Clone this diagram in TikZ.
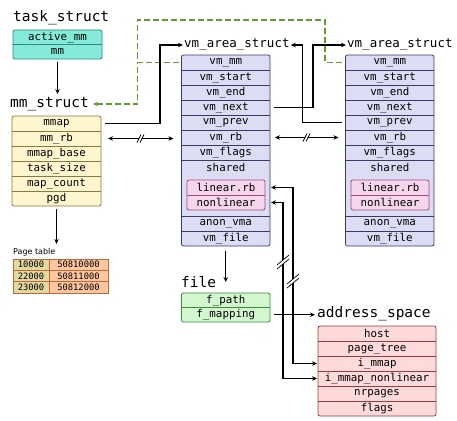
\documentclass[tikz,border=0pt]{standalone}
\usepackage{fontspec}
\setmonofont{DejaVu Sans Mono}
\setsansfont{DejaVu Sans}
\usetikzlibrary{arrows.meta,calc}
\definecolor{tealF}{HTML}{86EAD9}\definecolor{tealD}{HTML}{2E8C7E}
\definecolor{yelF}{HTML}{FFF5CF}\definecolor{yelD}{HTML}{8A7A40}
\definecolor{vmaF}{HTML}{DCDCF4}\definecolor{vmaD}{HTML}{3A3A6A}
\definecolor{pinkF}{HTML}{F6D6EC}\definecolor{pinkD}{HTML}{9A4E84}
\definecolor{grnF}{HTML}{D2F7CE}\definecolor{grnD}{HTML}{3E8E3E}
\definecolor{redF}{HTML}{FFDADA}\definecolor{redD}{HTML}{9E3C3C}
\definecolor{khaki}{HTML}{E3D9A0}\definecolor{salm}{HTML}{FFC6A0}\definecolor{ptD}{HTML}{C0683A}
\definecolor{dashG}{HTML}{5E9E2E}
\tikzset{
 title/.style={font=\ttfamily\fontsize{14.5}{16}\selectfont, anchor=west, inner sep=1pt},
 vtitle/.style={font=\ttfamily\fontsize{12.5}{14}\selectfont, anchor=west, inner sep=1pt},
 fld/.style={font=\ttfamily\fontsize{10.8}{12}\selectfont, anchor=north west, inner sep=0pt, outer sep=0pt, minimum height=15pt},
 ptc/.style={font=\ttfamily\fontsize{8.8}{10}\selectfont, anchor=north west, inner sep=0pt, outer sep=0pt, minimum height=11.33pt, draw=ptD, line width=0.8pt},
 boxline/.style={line width=0.8pt},
 arr/.style={line width=1.2pt, -{Stealth[length=5pt,width=4.5pt]}},
 darr/.style={line width=1.2pt, {Stealth[length=5pt,width=4.5pt]}-{Stealth[length=5pt,width=4.5pt]}},
 gdash/.style={line width=1.2pt, dashG, dash pattern=on 6pt off 3pt},
 hashh/.pic={\fill[white] (-3,4) -- (1,-4) -- (4,-4) -- (0,4) -- cycle;
   \draw[line width=0.7pt] (-3,4) -- (1,-4) (0,4) -- (4,-4);},
 hashv/.pic={\fill[white] (-6,6) -- (6,-4) -- (6,-8) -- (-6,2) -- cycle;
   \draw[line width=0.7pt] (-6,6) -- (6,-4) (-6,2) -- (6,-8);},
}
\newcommand{\structrows}[8]{%
 \draw[rounded corners=2pt, fill=#7F, draw=#7D, boxline] (#2,#3) rectangle ++(#4,#5*#6);
 \foreach \t [count=\i] in {#8} {
   \node[fld, minimum width=#4pt, minimum height=#5pt] (#1-\i) at (#2,{#3+(\i-1)*#5}) {\t};
 }
 \foreach \i in {2,...,#6} \draw[#7D, boxline] (#2,{#3+(\i-1)*#5}) -- ++(#4,0);
}
\newcommand{\vmabox}[2]{%
 \draw[rounded corners=2pt, fill=vmaF, draw=vmaD, boxline] (#2,55) rectangle ++(88.5,191);
 \foreach \t [count=\i] in {vm\_mm,vm\_start,vm\_end,vm\_next,vm\_prev,vm\_rb,vm\_flags}
   \node[fld, minimum width=88.5pt] (#1-\i) at (#2,{55+(\i-1)*15}) {\t};
 \node[fld, minimum width=88.5pt] (#1-sh) at (#2,160) {shared};
 \draw[rounded corners=2pt, fill=pinkF, draw=pinkD, boxline] (#2+5.5,180) rectangle ++(78,30);
 \node[fld, minimum width=78pt] (#1-lin) at (#2+5.5,180) {linear.rb};
 \node[fld, minimum width=78pt] (#1-non) at (#2+5.5,195) {nonlinear};
 \draw[pinkD, boxline] (#2+5.5,195) -- ++(78,0);
 \node[fld, minimum width=88.5pt] (#1-av) at (#2,216) {anon\_vma};
 \node[fld, minimum width=88.5pt] (#1-vf) at (#2,231) {vm\_file};
 \foreach \y in {70,85,100,115,130,145,160,216,231} \draw[vmaD, boxline] (#2,\y) -- ++(88.5,0);
}
\begin{document}
\begin{tikzpicture}[x=1pt,y=-1pt]
\useasboundingbox (0,0) rectangle (457,420);
\fill[white] (0,0) rectangle (457,420);

% titles
\node[title] (tst) at (12,18) {task\_struct};
\node[title] (mmt) at (9,104) {mm\_struct};
\node[vtitle] (vt1) at (183,45) {vm\_area\_struct};
\node[vtitle] (vt2) at (346,45) {vm\_area\_struct};
\node[title] (ft) at (180,282) {file};
\node[title] (at) at (316,314) {address\_space};
\node[font=\sffamily\fontsize{8}{9}\selectfont, anchor=west, inner sep=1pt] (pt) at (12,252) {Page table};

% boxes
\structrows{ts}{13}{30}{89}{14.5}{2}{teal}{active\_mm,mm}
\structrows{mm}{12}{116}{89}{15}{6}{yel}{mmap,mm\_rb,mmap\_base,task\_size,map\_count,pgd}
\vmabox{v1}{181.5}
\vmabox{v2}{345.5}
\structrows{f}{181.5}{293}{88.5}{14.5}{2}{grn}{f\_path,f\_mapping}
\structrows{a}{318}{326}{118}{15}{6}{red}{host,page\_tree,i\_mmap,i\_mmap\_nonlinear,nrpages,flags}

% page table
\foreach \a/\b [count=\i] in {10000/50810000,22000/50811000,23000/50812000} {
  \node[ptc, fill=khaki, minimum width=36pt] (pl-\i) at (13,{259+(\i-1)*11.33}) {\a};
  \node[ptc, fill=salm, minimum width=59pt] (pr-\i) at (49,{259+(\i-1)*11.33}) {\b};
}

% coordinates
\coordinate (j1) at (160,45);
\coordinate (j2) at (313,45);
\coordinate (j3) at (302.5,45);
\coordinate (g1) at (137.5,62.5);
\coordinate (g2) at (137.5,20);

% green dashed
\draw[gdash] (v2-1.west) ++(-4,0) -- ++(-16.5,0) |- (g2) -- (g1);
\draw[gdash, -{Stealth[length=5pt,width=4.5pt]}, shorten <=3pt, shorten >=3pt] (v1-1.west) -- (g1) |- (mmt.east);

% connectors
\draw[arr, shorten <=3pt, shorten >=2pt] (ts-2.south) -- (ts-2.south |- mmt.north);
\draw[arr, shorten <=3pt, shorten >=3pt] (mm-6.south) -- (mm-6.south |- pt.north);
\draw[arr, shorten <=4pt] (mm-1.east) -| (j1) -- (vt1.west);
\draw[arr, shorten <=4pt] (v1-4.east) -| (j2) -- (vt2.west);
\draw[arr, shorten <=4pt] (v2-5.west) -| (j3) -- (vt1.east);
\draw[darr, shorten <=7pt, shorten >=8pt] (mm-2.east) -- (mm-2.east -| v1-6.west);
\pic at (140,138.5) {hashh};
\draw[darr, shorten <=5pt, shorten >=7pt] (v1-6.east) -- (v2-6.west);
\pic at (306,137.5) {hashh};
\draw[arr, shorten <=5pt] (v1-vf.south) -- (v1-vf.south |- ft.east);
\draw[arr, shorten <=4pt, shorten >=1pt] (f-2.east) -- (f-2.east -| at.west);
\draw[darr, shorten <=6pt, shorten >=1pt] (v1-lin.east) -- ++(28,0) |- (a-3.west);
\draw[darr, shorten <=6pt, shorten >=1pt] (v1-non.east) -- ++(18,0) |- (a-4.west);
\pic at (283,263) {hashv};
\pic at (293,282) {hashv};
\end{tikzpicture}
\end{document}
